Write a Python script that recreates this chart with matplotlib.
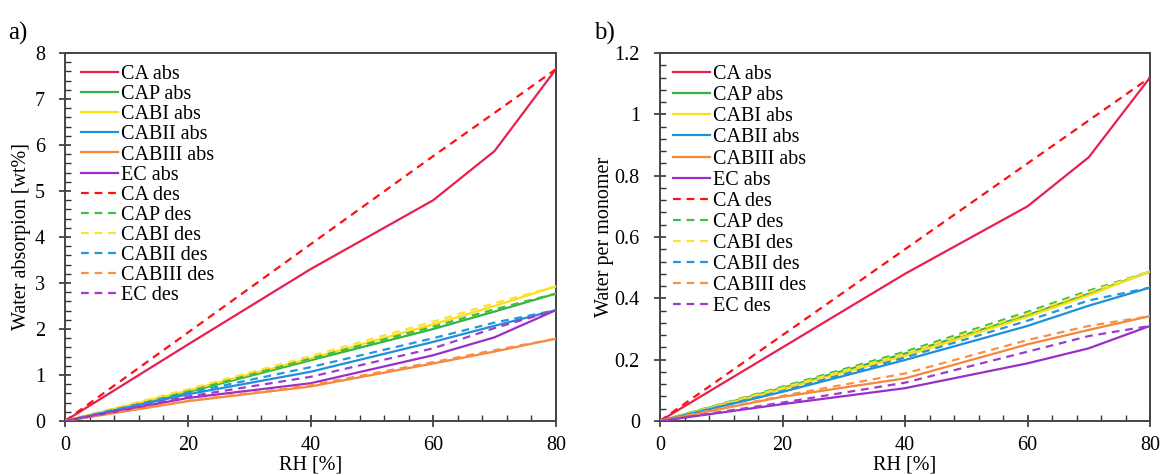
import matplotlib
matplotlib.use("Agg")
import matplotlib.pyplot as plt
from matplotlib.ticker import MultipleLocator

plt.rcParams['font.family'] = ['Liberation Serif', 'DejaVu Serif']
plt.rcParams['font.size'] = 14.5

# Relative humidity steps [%]
rh = [0, 20, 40, 60, 70, 80]

labels = ["CA abs", "CAP abs", "CABI abs", "CABII abs", "CABIII abs", "EC abs",
          "CA des", "CAP des", "CABI des", "CABII des", "CABIII des", "EC des"]

# Water absorption [wt%]
wt_ca_abs = [0, 1.66, 3.30, 4.80, 5.87, 7.65]
wt_cap_abs = [0, 0.63, 1.32, 2.00, 2.38, 2.77]
wt_cabi_abs = [0, 0.66, 1.36, 2.10, 2.50, 2.93]
wt_cabii_abs = [0, 0.58, 1.07, 1.72, 2.07, 2.41]
wt_cabiii_abs = [0, 0.43, 0.75, 1.25, 1.51, 1.79]
wt_ec_abs = [0, 0.50, 0.82, 1.43, 1.82, 2.41]
wt_ca_des = [0, 1.92, 3.84, 5.76, 6.70, 7.65]
wt_cap_des = [0, 0.65, 1.36, 2.05, 2.43, 2.77]
wt_cabi_des = [0, 0.69, 1.41, 2.16, 2.56, 2.93]
wt_cabii_des = [0, 0.61, 1.17, 1.80, 2.14, 2.41]
wt_cabiii_des = [0, 0.44, 0.78, 1.28, 1.54, 1.79]
wt_ec_des = [0, 0.53, 0.96, 1.58, 2.02, 2.41]

# Water molecules per monomer unit
wm_ca_abs = [0, 0.24, 0.48, 0.70, 0.86, 1.12]
wm_cap_abs = [0, 0.108, 0.220, 0.345, 0.415, 0.487]
wm_cabi_abs = [0, 0.104, 0.212, 0.340, 0.410, 0.487]
wm_cabii_abs = [0, 0.095, 0.199, 0.310, 0.376, 0.435]
wm_cabiii_abs = [0, 0.079, 0.139, 0.250, 0.297, 0.342]
wm_ec_abs = [0, 0.055, 0.107, 0.188, 0.237, 0.310]
wm_ca_des = [0, 0.28, 0.56, 0.84, 0.98, 1.12]
wm_cap_des = [0, 0.112, 0.226, 0.356, 0.425, 0.487]
wm_cabi_des = [0, 0.108, 0.220, 0.350, 0.420, 0.487]
wm_cabii_des = [0, 0.098, 0.207, 0.327, 0.393, 0.435]
wm_cabiii_des = [0, 0.082, 0.155, 0.264, 0.310, 0.342]
wm_ec_des = [0, 0.060, 0.125, 0.226, 0.277, 0.310]

abs_colors = ["#e8204e", "#33b540", "#ffdc14", "#1f8fd8", "#f5873a", "#9a2fc8"]
des_colors = ["#ff1010", "#3cbf4a", "#ffe030", "#2696dc", "#f79048", "#a03ccc"]

wt_series = [wt_ca_abs, wt_cap_abs, wt_cabi_abs, wt_cabii_abs, wt_cabiii_abs, wt_ec_abs,
             wt_ca_des, wt_cap_des, wt_cabi_des, wt_cabii_des, wt_cabiii_des, wt_ec_des]
wm_series = [wm_ca_abs, wm_cap_abs, wm_cabi_abs, wm_cabii_abs, wm_cabiii_abs, wm_ec_abs,
             wm_ca_des, wm_cap_des, wm_cabi_des, wm_cabii_des, wm_cabiii_des, wm_ec_des]

fig = plt.figure(figsize=(11.6, 4.75), dpi=100)
ax_a = fig.add_axes([65 / 1160, 1 - 421 / 475, 491 / 1160, 368 / 475])
ax_b = fig.add_axes([660 / 1160, 1 - 421 / 475, 490 / 1160, 368 / 475])


def draw(ax, series, ylim, ymajor, yminor, ylabel, ylab_x, lspacing, leg_x):
    for i, (lab, ys) in enumerate(zip(labels, series)):
        if i < 6:
            ax.plot(rh, ys, color=abs_colors[i], lw=1.6, label=lab, zorder=3)
        else:
            ax.plot(rh, ys, color=des_colors[i - 6], lw=1.6, ls=(0, (3.5, 2.6)),
                    label=lab, zorder=3)
    ax.set_xlim(0, 80)
    ax.set_ylim(*ylim)
    ax.xaxis.set_major_locator(MultipleLocator(20))
    ax.xaxis.set_minor_locator(MultipleLocator(4))
    ax.yaxis.set_major_locator(MultipleLocator(ymajor))
    ax.yaxis.set_minor_locator(MultipleLocator(yminor))
    ax.tick_params(which='major', direction='inout', length=9, width=1.2,
                   color='#333333', labelsize=14.5)
    ax.tick_params(axis='y', which='major', pad=10)
    ax.tick_params(axis='x', which='major', pad=6)
    ax.tick_params(which='minor', direction='in', length=4, width=1.0, color='#333333')
    for sp in ax.spines.values():
        sp.set_linewidth(1.4)
        sp.set_color('#444444')
    ax.set_xlabel("RH [%]", fontsize=14.5)
    ax.set_ylabel(ylabel, fontsize=14.5)
    ax.xaxis.set_label_coords(0.5, -0.094)
    ax.yaxis.set_label_coords(ylab_x, 0.5)
    ax.legend(loc='upper left', bbox_to_anchor=(leg_x, 0.981), frameon=False,
              fontsize=14.5, handlelength=1.85, handletextpad=0.15,
              labelspacing=lspacing, borderaxespad=0.0, borderpad=0.25)


draw(ax_a, wt_series, (0, 8), 1, 0.2, "Water absorpion [wt%]", -0.07, 0.05, 0.022)
draw(ax_b, wm_series, (0, 1.2), 0.2, 0.04, "Water per monomer", -0.094, 0.1, 0.016)

ax_b.yaxis.set_major_formatter(plt.FuncFormatter(lambda v, p: f"{v:g}"))

fig.text(8 / 1160, 1 - 40 / 475, "a)", fontsize=18)
fig.text(594 / 1160, 1 - 40 / 475, "b)", fontsize=18)

fig.savefig("out.png", dpi=100)
